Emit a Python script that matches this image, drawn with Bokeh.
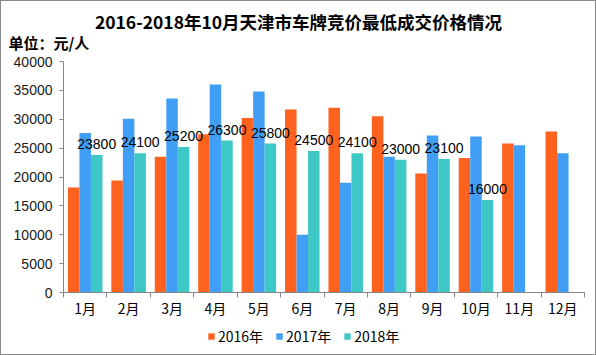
from bokeh.plotting import figure
from bokeh.layouts import column
from bokeh.models import Range1d, FixedTicker, Label, Legend, LegendItem, ColumnDataSource
from bokeh.core.properties import value
from bokeh.embed import file_html
from bokeh.resources import INLINE

months = ["1月", "2月", "3月", "4月", "5月", "6月", "7月", "8月", "9月", "10月", "11月", "12月"]
v2016 = [18200, 19400, 23500, 27400, 30200, 31700, 32000, 30500, 20600, 23300, 25800, 27900]
v2017 = [27600, 30100, 33600, 36000, 34800, 10000, 19000, 23500, 27200, 27000, 25500, 24100]
v2018 = [23800, 24100, 25200, 26300, 25800, 24500, 24100, 23000, 23100, 16000]
yticks = [0, 5000, 10000, 15000, 20000, 25000, 30000, 35000, 40000]

title_text = "2016-2018年10月天津市车牌竞价最低成交价格情况"
unit_text = "单位：元/人"
series_names = ["2016年", "2017年", "2018年"]
colors = ["#FF611F", "#409FF5", "#3DC8C6"]

CJK = "Noto Sans CJK SC"
BORDER = "1px solid #8a8a8a"

# ---- header strip (title + unit)
p0 = figure(width=596, height=53, output_backend="svg", toolbar_location=None,
            x_axis_location=None, y_axis_location=None, min_border=0, frame_align=False,
            x_range=Range1d(0, 1), y_range=Range1d(0, 1),
            background_fill_color="white", border_fill_color="white",
            styles={"border-top": BORDER, "border-left": BORDER, "border-right": BORDER,
                    "box-sizing": "border-box"})
p0.outline_line_color = None
p0.grid.visible = False
p0.add_layout(Label(x=297, y=33, x_units="screen", y_units="screen", text=title_text,
                    text_align="center", text_baseline="middle", text_font=CJK,
                    text_font_size="17.5px", text_font_style="bold", text_color="black"))
p0.add_layout(Label(x=7, y=12, x_units="screen", y_units="screen", text=unit_text,
                    text_align="left", text_baseline="middle", text_font=CJK,
                    text_font_size="15px", text_font_style="bold", text_color="black"))

# ---- main chart
p = figure(width=596, height=272, output_backend="svg", toolbar_location=None,
           x_range=Range1d(0.5, 12.5), y_range=Range1d(0, 40000), frame_align=False,
           min_border_left=62, min_border_right=13, min_border_top=8, min_border_bottom=33,
           background_fill_color="white", border_fill_color="white",
           styles={"border-left": BORDER, "border-right": BORDER, "box-sizing": "border-box"})
p.outline_line_color = None
p.grid.visible = False

idx = list(range(1, 13))
w = 0.265
offs = [-w, 0.0, w]
for vals, off, c in zip([v2016, v2017, v2018], offs, colors):
    xs = [i + off for i in idx[:len(vals)]]
    src = ColumnDataSource(dict(x=xs, top=vals))
    p.vbar(x="x", top="top", width=w, bottom=0, source=src, fill_color=c, line_color=None)

lab_src = ColumnDataSource(dict(x=[i + w for i in idx[:len(v2018)]], y=v2018,
                                t=[str(v) for v in v2018]))
p.text(x="x", y="y", text="t", source=lab_src, text_align="center", text_baseline="bottom",
       y_offset=-6, text_font=value("Liberation Sans"), text_font_size="14px", text_color="black")

xa = p.xaxis[0]
xa.ticker = FixedTicker(ticks=idx, minor_ticks=[i - 0.5 for i in idx] + [12.5])
xa.major_label_overrides = {i: m for i, m in zip(idx, months)}
xa.major_tick_out = 0
xa.major_tick_in = 0
xa.minor_tick_out = 5
xa.minor_tick_in = 0
xa.axis_line_color = "#868686"
xa.minor_tick_line_color = "#868686"
xa.major_label_standoff = 0
xa.major_label_text_font = CJK
xa.major_label_text_font_size = "14px"
xa.major_label_text_color = "black"

ya = p.yaxis[0]
ya.ticker = FixedTicker(ticks=yticks)
ya.major_tick_out = 4
ya.major_tick_in = 0
ya.minor_tick_line_color = None
ya.axis_line_color = "#868686"
ya.major_tick_line_color = "#868686"
ya.major_label_standoff = 7
ya.major_label_text_font = "Liberation Sans"
ya.major_label_text_font_size = "14px"
ya.major_label_text_color = "#1a1a1a"

# ---- legend strip
p2 = figure(width=596, height=30, output_backend="svg", toolbar_location=None,
            x_axis_location=None, y_axis_location=None, min_border=0, frame_align=False,
            x_range=Range1d(0, 1), y_range=Range1d(0, 1),
            background_fill_color="white", border_fill_color="white",
            styles={"border-bottom": BORDER, "border-left": BORDER, "border-right": BORDER,
                    "box-sizing": "border-box"})
p2.outline_line_color = None
p2.grid.visible = False
leg_renderers = []
for c in colors:
    leg_renderers.append(p2.vbar(x=[-5], top=[0], width=0.1, fill_color=c, line_color=None))

legend = Legend(items=[LegendItem(label=n, renderers=[r]) for n, r in zip(series_names, leg_renderers)],
                orientation="horizontal", location=(206, 9), glyph_width=8, glyph_height=8,
                label_standoff=3, spacing=12, padding=0, margin=0, border_line_color=None,
                background_fill_alpha=0, label_text_font=CJK, label_text_font_size="14px",
                label_text_color="black", label_height=20)
p2.add_layout(legend, "center")

lay = column(p0, p, p2, spacing=0)
open("out.html", "w").write(file_html(lay, INLINE))
